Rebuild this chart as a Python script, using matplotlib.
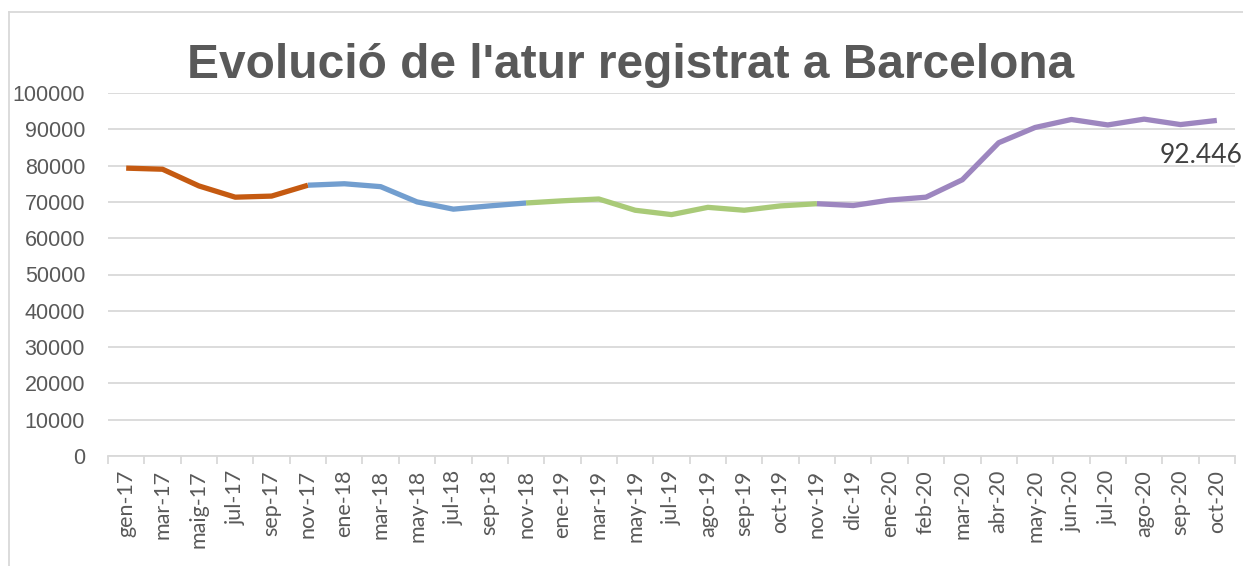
import matplotlib
matplotlib.use("Agg")
import matplotlib.pyplot as plt
import numpy as np

mesos = ["gen-17", "mar-17", "maig-17", "jul-17", "sep-17", "nov-17",
         "ene-18", "mar-18", "may-18", "jul-18", "sep-18", "nov-18",
         "ene-19", "mar-19", "may-19", "jul-19", "ago-19", "sep-19", "oct-19", "nov-19",
         "dic-19", "ene-20", "feb-20", "mar-20", "abr-20", "may-20", "jun-20",
         "jul-20", "ago-20", "sep-20", "oct-20"]

aturats = [79300, 79000, 74400, 71300, 71600, 74600,
           75000, 74200, 70000, 68000, 68900, 69700,
           70300, 70800, 67700, 66500, 68500, 67700, 68900, 69500,
           69000, 70500, 71300, 76100, 86300, 90500, 92700,
           91200, 92800, 91300, 92446]

# trams de color (index inicial, index final inclos)
trams = [(0, 5), (5, 11), (11, 19), (19, 30)]
colors = ["#C55A11", "#729ECF", "#A9CA78", "#9D86BF"]

fig = plt.figure(figsize=(12.43, 5.66), dpi=100)
ax = fig.add_axes([108/1243, 1-456/566, (1235-108)/1243, (456-93)/566])

x = np.arange(len(mesos))
for (a, b), c in zip(trams, colors):
    ax.plot(x[a:b+1], aturats[a:b+1], color=c, lw=3.8, solid_capstyle="butt",
            solid_joinstyle="round", zorder=3)

ax.annotate("92.446", (x[-1], aturats[-1]), xytext=(18.5, -25), textcoords="offset points",
            ha="right", va="center", fontsize=19, family="Lato", color="#404040",
            annotation_clip=False)

ax.set_ylim(0, 100000)
ax.set_xlim(-0.5, len(mesos) - 0.5)
ax.set_yticks(np.arange(0, 100001, 10000))
ax.set_yticklabels([str(v) for v in range(0, 100001, 10000)],
                   family="Liberation Sans", fontsize=15.5, color="#595959")
ax.grid(axis="y", color="#D9D9D9", lw=1.3)
ax.set_axisbelow(True)
ax.tick_params(axis="y", length=0, pad=16.5)

ax.set_xticks(x)
ax.set_xticklabels(mesos, rotation=90, family="Lato", fontsize=15.5, color="#595959")
ax.tick_params(axis="x", which="major", length=0, pad=10)
ax.set_xticks(np.arange(-0.5, len(mesos), 1), minor=True)
ax.tick_params(axis="x", which="minor", length=6, color="#D9D9D9", width=1.3)

for s in ["top", "right", "left"]:
    ax.spines[s].set_visible(False)
ax.spines["bottom"].set_color("#D9D9D9")
ax.spines["bottom"].set_linewidth(1.3)

fig.text(631/1243, 1-65/566, "Evolució de l'atur registrat a Barcelona", ha="center", va="center",
         fontsize=34.5, fontweight="bold", family="Liberation Sans", color="#595959")

# marc del grafic
fig.add_artist(plt.Line2D([9/1243, 9/1243], [0, 1-12/566], color="#D9D9D9", lw=1.3))
fig.add_artist(plt.Line2D([9/1243, 1], [1-12/566, 1-12/566], color="#D9D9D9", lw=1.3))

fig.savefig("out.png", dpi=100)
